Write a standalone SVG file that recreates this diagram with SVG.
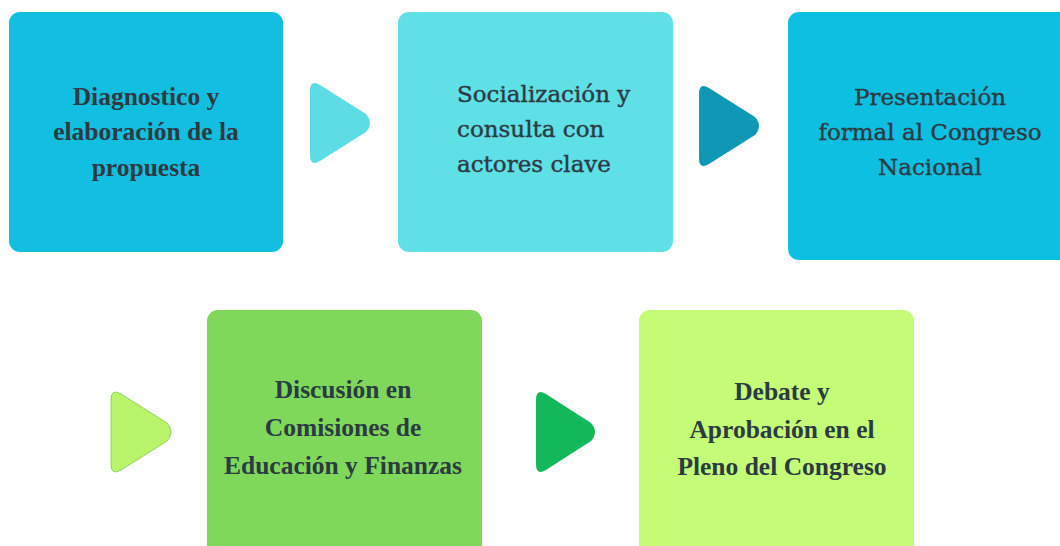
<svg xmlns="http://www.w3.org/2000/svg" width="1060" height="546" viewBox="0 0 1060 546">
<style>
.box{stroke:none}
.t{font-family:"Liberation Serif","Times New Roman",serif;font-size:25.5px;fill:#2c3a42}
.b{font-weight:bold}
.m{font-family:"DejaVu Serif",Georgia,serif;font-size:23px;stroke:#2c3a42;stroke-width:0.4}
</style>
<rect width="1060" height="546" fill="#ffffff"/>
<g id="node1">
<rect class="box" x="9" y="12" width="274" height="240" rx="11" fill="#12bfe0"/>
<text class="t b" text-anchor="middle" x="146" y="105">Diagnostico y</text>
<text class="t b" text-anchor="middle" x="146" y="140">elaboración de la</text>
<text class="t b" text-anchor="middle" x="146" y="176">propuesta</text>
</g>
<g id="node2">
<rect class="box" x="398" y="12" width="275" height="240" rx="11" fill="#5ee0e6"/>
<text class="t m" x="457" y="102">Socialización y</text>
<text class="t m" x="457" y="137">consulta con</text>
<text class="t m" x="457" y="172">actores clave</text>
</g>
<g id="node3">
<rect class="box" x="788" y="12" width="290" height="248" rx="11" fill="#0dbfe0"/>
<text class="t m" text-anchor="middle" x="930" y="105">Presentación</text>
<text class="t m" text-anchor="middle" x="930" y="140">formal al Congreso</text>
<text class="t m" text-anchor="middle" x="930" y="175">Nacional</text>
</g>
<g id="node4">
<rect class="box" x="207" y="310" width="275" height="260" rx="11" fill="#7fd85a"/>
<text class="t b" text-anchor="middle" x="343" y="398">Discusión en</text>
<text class="t b" text-anchor="middle" x="343" y="436">Comisiones de</text>
<text class="t b" text-anchor="middle" x="343" y="474">Educación y Finanzas</text>
</g>
<g id="node5">
<rect class="box" x="639" y="310" width="275" height="260" rx="11" fill="#c5fc77"/>
<text class="t b" text-anchor="middle" x="782" y="400">Debate y</text>
<text class="t b" text-anchor="middle" x="782" y="438">Aprobación en el</text>
<text class="t b" text-anchor="middle" x="782" y="475">Pleno del Congreso</text>
</g>
<g id="connectors">
<path d="M320,85 L366,114 Q374,123 366,132 L320,161 Q310,167 310,155 L310,91 Q310,79 320,85 Z" fill="#5cdde5"/>
<path d="M709,88 L755,117 Q763,126 755,135 L709,164 Q699,170 699,158 L699,94 Q699,82 709,88 Z" fill="#0e98b5"/>
<path d="M121,394 L167,423 Q175,432 167,441 L121,470 Q111,476 111,464 L111,400 Q111,388 121,394 Z" fill="#b8f56a" stroke="#8fd45a" stroke-width="1"/>
<path d="M546,394 L591,423 Q599,432 591,441 L546,470 Q536,476 536,464 L536,400 Q536,388 546,394 Z" fill="#12b85a"/>
</g>
</svg>
